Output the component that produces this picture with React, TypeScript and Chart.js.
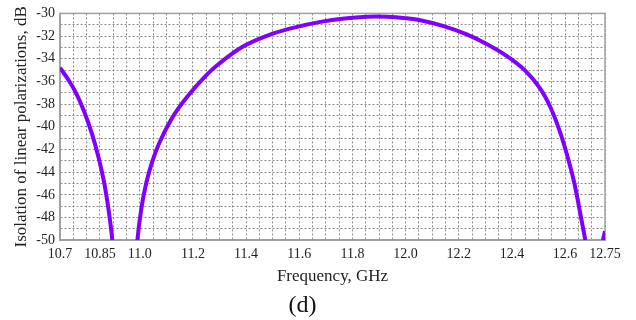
import React, { useEffect, useRef } from "react";
import { Chart, registerables } from "chart.js";

Chart.register(...registerables);

// Frequency (GHz) and isolation (dB); null marks where the curve leaves the plot below -50 dB
const frequencies: number[] = [
  10.7, 10.73, 10.76, 10.79, 10.82, 10.845, 10.865, 10.88, 10.89, 10.897,
  10.94,
  10.991, 11.0, 11.015, 11.035, 11.06, 11.09, 11.13, 11.18, 11.24, 11.3, 11.39, 11.48, 11.58,
  11.68, 11.77, 11.855, 11.93, 12.0, 12.06, 12.14, 12.23, 12.305, 12.38, 12.45, 12.505,
  12.545, 12.58, 12.61, 12.635, 12.655, 12.668, 12.676,
  12.71,
  12.742, 12.75,
];
const isolation: (number | null)[] = [
  -34.8, -35.8, -37.0, -38.6, -40.6, -42.7, -44.8, -46.9, -48.6, -50.0,
  null,
  -50.0, -48.2, -46.0, -44.0, -42.2, -40.6, -38.9, -37.3, -35.7, -34.4, -32.9, -31.95, -31.25,
  -30.75, -30.45, -30.3, -30.3, -30.42, -30.62, -31.1, -31.85, -32.7, -33.75, -35.05, -36.6,
  -38.3, -40.4, -42.7, -45.0, -47.4, -49.0, -50.0,
  null,
  -50.0, -49.2,
];
const xTickLabels: string[] = [
  "10.7", "10.85", "11.0", "11.2", "11.4", "11.6", "11.8", "12.0", "12.2", "12.4", "12.6", "12.75",
];
const xMin = 10.7;
const xMax = 12.75;
const xGridStep = 0.05;
const yMin = -50;
const yMax = -30;

const xTitle = "Frequency, GHz";
const yTitle = "Isolation of linear polarizations, dB";
const caption = "(d)";

const FONT = "'Liberation Serif', 'Times New Roman', serif";

export default function App() {
  const ref = useRef<HTMLCanvasElement | null>(null);

  useEffect(() => {
    if (!ref.current) return;
    const points = frequencies.map((f, i) => ({ x: f, y: isolation[i] }));

    const frameBorder = {
      id: "frameBorder",
      beforeDatasetsDraw(chart: any) {
        const { ctx, chartArea } = chart;
        ctx.save();
        ctx.strokeStyle = "#a0a0a0";
        ctx.lineWidth = 1.5;
        ctx.strokeRect(chartArea.left, chartArea.top, chartArea.right - chartArea.left, chartArea.bottom - chartArea.top);
        ctx.restore();
      },
    };

    const chart = new Chart(ref.current, {
      type: "line",
      data: {
        datasets: [
          {
            data: points as any,
            borderColor: "#8000ff",
            borderWidth: 4,
            pointRadius: 0,
            tension: 0.4,
            spanGaps: false,
            fill: false,
          },
        ],
      },
      options: {
        animation: false,
        responsive: true,
        maintainAspectRatio: false,
        layout: { padding: { left: 0, right: 31, top: 10, bottom: 0 } },
        plugins: {
          legend: { display: false },
          tooltip: { enabled: false },
          title: {
            display: true,
            text: caption,
            position: "bottom",
            color: "#111",
            font: { family: FONT, size: 24, weight: "normal" },
            padding: { top: 0, bottom: 0 },
          },
        },
        scales: {
          x: {
            type: "linear",
            min: xMin,
            max: xMax,
            afterBuildTicks(scale: any) {
              const n = Math.round((xMax - xMin) / xGridStep);
              const t = [];
              for (let k = 0; k <= n; k++) t.push({ value: Math.round((xMin + k * xGridStep) * 1000) / 1000 });
              scale.ticks = t;
            },
            afterFit(scale: any) {
              scale.height = 51;
            },
            ticks: {
              autoSkip: false,
              maxRotation: 0,
              padding: 6,
              color: "#222",
              font: { family: FONT, size: 14 },
              callback(value: any) {
                const v = Number(value);
                const lab = xTickLabels.find((l) => Math.abs(parseFloat(l) - v) < 1e-6);
                return lab ?? "";
              },
            },
            grid: { color: "rgba(110,110,110,0.8)", lineWidth: 1, drawTicks: false },
            border: { display: true, color: "#a0a0a0", width: 1.5, dash: [2, 2] },
            title: {
              display: true,
              text: xTitle,
              color: "#222",
              font: { family: FONT, size: 17 },
              padding: { top: 0, bottom: 4 },
            },
          },
          y: {
            type: "linear",
            min: yMin,
            max: yMax,
            afterFit(scale: any) {
              scale.width = 60;
            },
            ticks: {
              stepSize: 1,
              autoSkip: false,
              padding: 5,
              color: "#222",
              font: { family: FONT, size: 14 },
              callback(value: any) {
                const v = Math.round(Number(value));
                return v % 2 === 0 ? String(v) : "";
              },
            },
            grid: { color: "rgba(110,110,110,0.8)", lineWidth: 1, drawTicks: false },
            border: { display: true, color: "#a0a0a0", width: 1.5, dash: [2, 2] },
            title: {
              display: true,
              text: yTitle,
              color: "#222",
              font: { family: FONT, size: 17 },
              padding: { top: 11, bottom: 0 },
            },
          },
        },
      },
      plugins: [frameBorder],
    });
    return () => chart.destroy();
  }, []);

  return (
    <div style={{ position: "fixed", left: 0, top: 0, width: 636, height: 320, background: "#fff" }}>
      <canvas ref={ref} />
    </div>
  );
}
